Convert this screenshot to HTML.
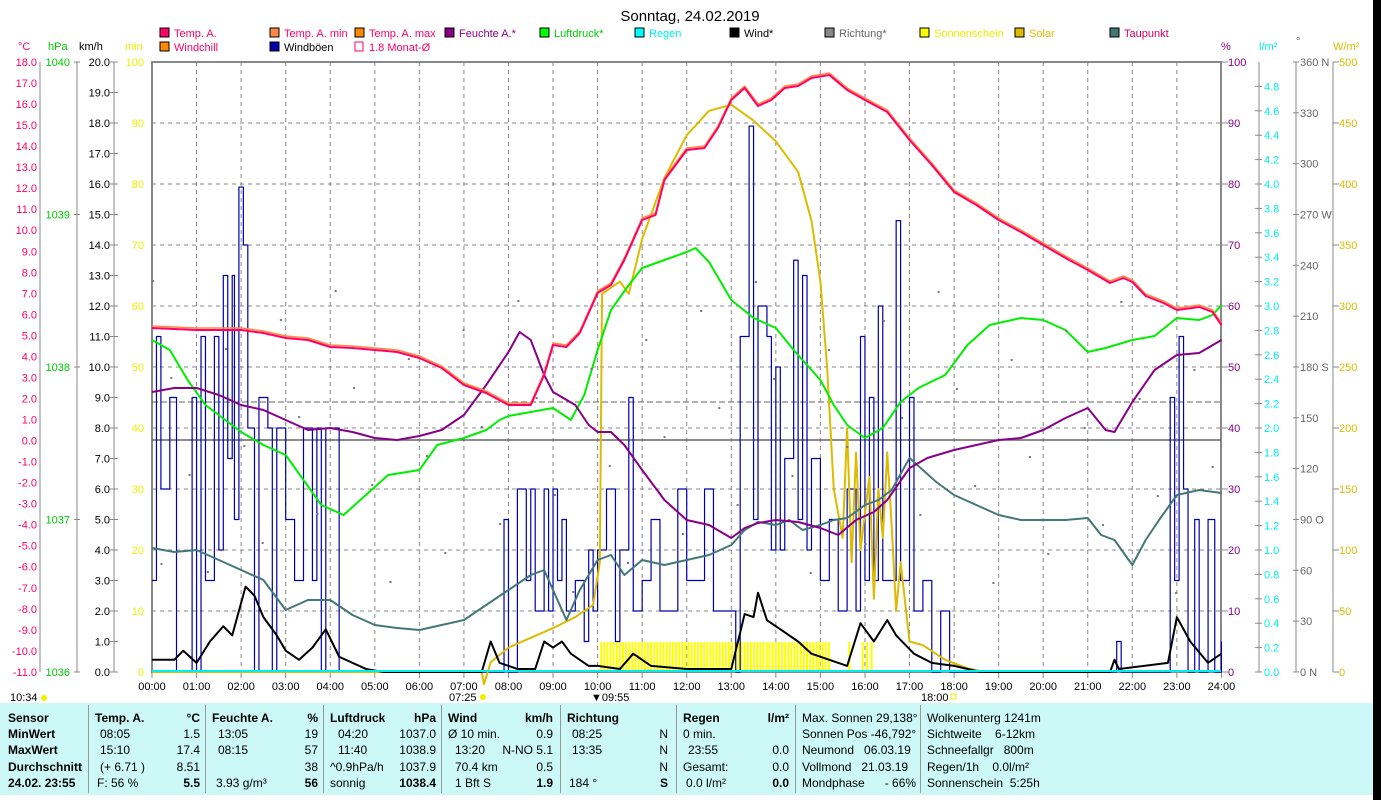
<!DOCTYPE html>
<html><head><meta charset="utf-8">
<style>
body{margin:0;background:#fff;width:1381px;height:800px;overflow:hidden;font-family:"Liberation Sans",sans-serif;}
svg{position:absolute;left:0;top:0}
#tbl{position:absolute;left:0;top:703px;width:1373px;height:92px;background:#ccf8f8;font-size:12px;}
#blk{position:absolute;left:1373px;top:0;width:8px;height:800px;background:#000}
.c{position:absolute;white-space:nowrap}
.b{font-weight:bold}
.sep{position:absolute;top:2px;width:1px;height:88px;background:#999}
</style></head><body>
<svg id="s" width="1381" height="800" font-family="Liberation Sans, sans-serif" font-size="11"></svg>
<div id="tbl"></div>
<div id="blk"></div>
<script>
const S=document.getElementById('s');let h='';
const X=t=>152+44.56*t;
const L=152,R=1221,T=62,B=672;
// grid
for(let i=1;i<24;i++)h+=`<line x1="${X(i)}" y1="${T}" x2="${X(i)}" y2="${B}" stroke="#888" stroke-dasharray="4,4"/>`;
for(let i=1;i<10;i++){let y=B-61*i;h+=`<line x1="${L}" y1="${y}" x2="${R}" y2="${y}" stroke="#888" stroke-dasharray="4,4"/>`;}
h+=`<rect x="${L}" y="${T}" width="${R-L}" height="${B-T}" fill="none" stroke="#888" stroke-width="2"/>`;
h+=`<line x1="${L}" y1="440" x2="${R}" y2="440" stroke="#666" stroke-width="1.5"/>`;
h+=`<line x1="${L}" y1="402" x2="${R}" y2="402" stroke="#666" stroke-dasharray="6,3"/>`;
// title
h+=`<text x="690" y="21" font-size="15" text-anchor="middle">Sonntag, 24.02.2019</text>`;
// legend
const lg=[[160,37,'#f06','Temp. A.','#f06'],[270,37,'#f84','Temp. A. min','#f06'],[355,37,'#f80','Temp. A. max','#f06'],[445,37,'#808','Feuchte A.*','#808'],[540,37,'#0f0','Luftdruck*','#0c0'],[635,37,'#0ff','Regen','#0ee'],[730,37,'#000','Wind*','#000'],[825,37,'#888','Richtung*','#666'],[920,37,'#ff0','Sonnenschein','#ee0'],[1015,37,'#db0','Solar','#db0'],[1110,37,'#477','Taupunkt','#c06'],[160,51,'#f80','Windchill','#f06'],[270,51,'#00a','Windböen','#000']];
lg.forEach(a=>{h+=`<rect x="${a[0]}" y="${a[1]-9}" width="9" height="9" fill="${a[2]}" stroke="#000"/><text x="${a[0]+14}" y="${a[1]}" fill="${a[4]}">${a[3]}</text>`});
h+=`<rect x="355" y="42" width="8" height="9" fill="none" stroke="#f06"/><text x="369" y="51" fill="#f06">1.8 Monat-Ø</text>`;
// left axes
h+=`<text x="18" y="50" fill="#f06">°C</text><text x="48" y="50" fill="#0c0">hPa</text><text x="79" y="50">km/h</text><text x="125" y="50" fill="#ee0">min</text>`;
h+=`<line x1="40" y1="62" x2="40" y2="672" stroke="#888"/><line x1="77" y1="62" x2="77" y2="672" stroke="#888"/><line x1="114" y1="62" x2="114" y2="672" stroke="#888"/>`;
for(let i=0;i<=29;i++){let v=18-i,y=62+i*21.03;h+=`<text x="37" y="${y+4}" fill="#f06" text-anchor="end">${v.toFixed(1)}</text>`;}
for(let i=0;i<=4;i++){let y=62+i*152.5;h+=`<line x1="74" y1="${y}" x2="80" y2="${y}" stroke="#888"/><text x="70" y="${y+4}" fill="#0c0" text-anchor="end">${1040-i}</text>`;}
for(let i=0;i<=20;i++){let y=62+i*30.5;h+=`<line x1="110" y1="${y}" x2="118" y2="${y}" stroke="#888"/><text x="110" y="${y+4}" text-anchor="end">${(20-i).toFixed(1)}</text>`;}
for(let i=0;i<=10;i++){let y=62+i*61;h+=`<text x="144" y="${y+4}" fill="#ee0" text-anchor="end">${100-i*10}</text>`;}
// right axes
h+=`<text x="1221" y="50" fill="#808">%</text><text x="1259" y="50" fill="#0ee">l/m²</text><text x="1296" y="45" fill="#666">°</text><text x="1333" y="50" fill="#db0">W/m²</text>`;
h+=`<line x1="1259" y1="62" x2="1259" y2="672" stroke="#888"/><line x1="1296" y1="62" x2="1296" y2="672" stroke="#888"/><line x1="1333" y1="62" x2="1333" y2="672" stroke="#888"/>`;
for(let i=0;i<=10;i++){let y=62+i*61;h+=`<line x1="1222" y1="${y}" x2="1228" y2="${y}" stroke="#888"/><text x="1228" y="${y+4}" fill="#808">${100-i*10}</text>`;
 h+=`<line x1="1333" y1="${y}" x2="1339" y2="${y}" stroke="#888"/><text x="1339" y="${y+4}" fill="#db0">${500-i*50}</text>`;}
for(let i=1;i<=25;i++){let y=62+i*24.4;h+=`<line x1="1255" y1="${y}" x2="1262" y2="${y}" stroke="#888"/><text x="1264" y="${y+4}" fill="#0ee">${(5-i*0.2).toFixed(1)}</text>`;}
const dl={360:' N',270:' W',180:' S',90:' O',0:' N'};
for(let i=0;i<=12;i++){let y=62+i*50.83,v=360-i*30;h+=`<line x1="1293" y1="${y}" x2="1299" y2="${y}" stroke="#888"/><text x="1300" y="${y+4}" fill="#666">${v}${dl[v]||''}</text>`;}
// x labels
for(let i=0;i<=24;i++){h+=`<line x1="${X(i)}" y1="672" x2="${X(i)}" y2="678" stroke="#888"/><text x="${X(i)}" y="690" text-anchor="middle">${String(i).padStart(2,'0')}:00</text>`;}
h+=`<text x="10" y="701" font-size="11">10:34</text><circle cx="44" cy="698" r="3" fill="#ee0"/>`;
h+=`<text x="449" y="701">07:25</text><circle cx="483" cy="697" r="3" fill="#ee0"/><text x="591" y="701">▼09:55</text><text x="921" y="701">18:00</text><rect x="951" y="694" width="5" height="5" fill="none" stroke="#ee0"/>`;
function pl(d,fy,col,w,step){let p=[];let prev=null;d.forEach(a=>{let x=X(a[0]),y=fy(a[1]);if(step&&prev!==null)p.push(x+','+prev);p.push(x+','+y);prev=y;});return `<polyline points="${p.join(' ')}" fill="none" stroke="${col}" stroke-width="${w}" stroke-linejoin="round"/>`;}
const id=v=>v;
// sunshine bars
for(let t=10.08;t<15.2;t+=0.07)h+=`<line x1="${X(t)}" y1="642" x2="${X(t)}" y2="672" stroke="#ff0" stroke-width="2"/>`;
[15.65,15.95,16.05,16.15].forEach(t=>h+=`<line x1="${X(t)}" y1="642" x2="${X(t)}" y2="672" stroke="#ff0" stroke-width="2"/>`);
// gusts
const K=v=>672-30.5*v;
const gust=[[0,3],[0.1,11],[0.2,6],[0.4,9],[0.55,0],[0.9,9],[1.0,0],[1.1,11],[1.2,3],[1.4,11],[1.5,4],[1.6,13],[1.7,7],[1.8,13],[1.85,5],[1.95,15.9],[2.05,14],[2.15,8],[2.3,0],[2.4,9],[2.6,8],[2.7,0],[2.8,8],[3.0,5],[3.2,3],[3.4,8],[3.6,3],[3.7,8],[3.8,0],[3.9,8],[4.1,8],[4.2,0],[7.8,0],[7.9,5],[8.0,0],[8.2,6],[8.4,3],[8.5,6],[8.6,2],[8.8,6],[8.9,2],[9.0,6],[9.1,3],[9.2,5],[9.3,2],[9.5,3],[9.7,1],[9.8,4],[9.9,2],[10.0,4],[10.2,6],[10.4,1],[10.5,4],[10.7,9],[10.8,2],[11.0,3],[11.2,5],[11.4,2],[11.6,2],[11.8,6],[12.0,3],[12.2,3],[12.4,6],[12.6,2],[12.8,2],[13.1,0],[13.2,11],[13.4,17.9],[13.5,5],[13.6,12],[13.8,11],[13.9,4],[14.0,10],[14.1,4],[14.2,7],[14.4,13.5],[14.5,5],[14.6,13],[14.7,4],[14.8,7],[15.0,3],[15.2,5],[15.4,2],[15.6,6],[15.8,2],[15.9,11],[16.0,3],[16.1,9],[16.2,3],[16.3,12],[16.4,3],[16.5,3],[16.7,14.8],[16.8,3],[17.0,9],[17.1,2],[17.3,3],[17.5,0],[17.7,2],[17.9,0],[21.6,0],[21.65,1],[21.75,0],[22.8,0],[22.85,9],[22.95,3],[23.05,11],[23.15,6],[23.25,0],[23.4,5],[23.5,0],[23.7,5],[23.85,0],[24,1]];
h+=pl(gust,K,'#00a',1.2,true);
// solar
const W=v=>672-1.22*v;
h+=pl([[0,0],[7.4,0],[7.45,-10],[7.6,8],[8,20],[8.5,28],[9,36],[9.5,45],[9.9,55],[10.05,90],[10.1,310],[10.5,320],[10.7,310],[11,355],[11.5,405],[12,440],[12.5,460],[13,465],[13.5,452],[14,435],[14.5,410],[14.8,370],[15.0,320],[15.15,250],[15.3,150],[15.5,110],[15.6,200],[15.7,90],[15.8,180],[15.9,100],[16.1,160],[16.2,60],[16.3,150],[16.4,110],[16.5,180],[16.6,120],[16.7,50],[16.8,90],[17,25],[17.3,22],[17.8,10],[18.3,3],[18.7,0]],W,'#db0',2);
// dewpoint
h+=pl([[0,548],[0.5,552],[1,550],[1.5,560],[2,570],[2.5,580],[3,610],[3.5,600],[4,600],[4.5,615],[5,625],[5.5,628],[6,630],[6.5,625],[7,620],[7.5,605],[8,590],[8.5,575],[8.8,570],[9,590],[9.3,620],[9.6,590],[10,560],[10.3,555],[10.6,575],[11,560],[11.5,565],[12,560],[12.5,555],[13,545],[13.3,530],[13.6,522],[14,525],[14.3,520],[14.6,530],[15,525],[15.3,520],[15.6,518],[16,505],[16.3,500],[16.6,490],[17,458],[17.3,470],[17.6,482],[18,495],[18.5,505],[19,515],[19.5,520],[20,520],[20.5,520],[21,518],[21.3,535],[21.6,540],[22,565],[22.3,540],[22.6,520],[23,495],[23.5,490],[24,493]],id,'#477',2);
// pressure
h+=pl([[0,340],[0.4,350],[0.8,380],[1.2,405],[2,432],[2.5,445],[3,455],[3.4,480],[3.8,505],[4.3,515],[4.8,495],[5.3,475],[6,470],[6.4,445],[7,438],[7.5,430],[7.8,420],[8,416],[8.5,412],[9,408],[9.4,420],[9.7,395],[10,350],[10.3,310],[10.7,285],[11,268],[11.5,260],[12,252],[12.2,248],[12.5,262],[13,300],[13.5,318],[14,328],[14.4,350],[15,380],[15.3,405],[15.6,425],[16,438],[16.4,428],[16.8,402],[17.2,388],[17.8,375],[18.3,345],[18.8,325],[19.5,318],[20,320],[20.5,330],[21,352],[21.4,348],[22,340],[22.5,336],[23,318],[23.5,320],[23.8,315],[24,305]],id,'#0e0',2);
// humidity
h+=pl([[0,392],[0.5,388],[1,388],[1.5,395],[2,405],[2.5,410],[3,420],[3.5,430],[4,428],[4.5,432],[5,438],[5.5,440],[6,436],[6.5,430],[7,415],[7.5,385],[8,352],[8.25,332],[8.5,340],[8.8,375],[9,392],[9.5,405],[9.8,425],[10,432],[10.3,432],[10.6,445],[11,470],[11.5,500],[12,520],[12.5,525],[13,538],[13.3,528],[13.6,523],[14,520],[14.5,522],[15,528],[15.4,535],[15.8,520],[16.2,512],[16.5,500],[17,468],[17.4,458],[18,450],[18.5,445],[19,440],[19.5,438],[20,430],[20.5,418],[21,408],[21.4,430],[21.6,432],[22,402],[22.5,370],[23,355],[23.5,353],[24,340]],id,'#808',2);
// temps
const tmp=[[0,328],[1,330],[2,330],[2.5,333],[3,338],[3.5,340],[4,347],[4.5,348],[5,350],[5.5,352],[6,358],[6.5,368],[7,385],[7.5,393],[8,405],[8.5,405],[8.8,375],[9,345],[9.3,347],[9.6,333],[10,293],[10.3,285],[10.6,260],[11,220],[11.3,215],[11.5,180],[12,150],[12.4,148],[12.7,128],[13,100],[13.3,88],[13.6,106],[13.9,100],[14.2,88],[14.5,86],[14.8,78],[15.2,75],[15.6,90],[16,100],[16.5,112],[17,140],[17.5,165],[18,192],[18.5,205],[19,220],[19.5,232],[20,245],[20.5,258],[21,270],[21.5,283],[21.8,278],[22,282],[22.3,296],[22.7,303],[23,310],[23.5,307],[23.8,312],[24,325]];
h+=pl(tmp.map(a=>[a[0],a[1]-2]),id,'#f84',1.5);
h+=pl(tmp,id,'#f06',2);
// wind black
const wd=[[0,0.4],[0.5,0.4],[0.7,0.7],[1,0.3],[1.3,1],[1.6,1.5],[1.8,1.2],[2.1,2.8],[2.3,2.5],[2.5,1.8],[2.8,1.2],[3,0.7],[3.3,0.4],[3.6,0.8],[3.9,1.4],[4.2,0.5],[4.8,0.1],[5.2,0],[7.4,0],[7.6,1.0],[7.8,0.3],[8.2,0.1],[8.6,0.1],[8.8,1.0],[9.0,0.8],[9.2,1.0],[9.4,0.6],[9.6,0.4],[9.8,0.2],[10,0.2],[10.5,0.1],[10.8,0.6],[11.2,0.2],[12,0.1],[13,0.1],[13.3,1.9],[13.5,1.8],[13.6,2.6],[13.8,1.7],[14.2,1.3],[14.5,1.0],[14.8,0.6],[15.2,0.4],[15.6,0.2],[15.9,1.6],[16.2,1.0],[16.5,1.7],[16.7,1.2],[17.1,0.6],[17.5,0.3],[18,0.2],[18.6,0],[21.5,0],[21.6,0.4],[21.7,0.1],[22.8,0.3],[23,1.8],[23.3,1.0],[23.7,0.3],[24,0.6]];
h+=pl(wd,K,'#000',2);
h+=`<line x1="152" y1="671" x2="1221" y2="671" stroke="#0ee" stroke-width="2"/>`;
// direction dots
for(let i=0;i<60;i++){let t=(i*0.41)%24,y=280+((i*97)%320);h+=`<rect x="${X(t)}" y="${y}" width="2" height="2" fill="#777"/>`;}
S.innerHTML=h;
// table
const tb=document.getElementById('tbl');let q='';
const C=(x,y,s,cls,al)=>{q+=`<div class="c ${cls||''}" style="${al?'right:'+(1373-x)+'px':'left:'+x+'px'};top:${y}px">${s}</div>`;};
[88,205,323,441,560,676,795,920].forEach(x=>q+=`<div class="sep" style="left:${x}px"></div>`);
const ry=[8,24,40,57,73];
['Sensor','MinWert','MaxWert','Durchschnitt','24.02. 23:55'].forEach((s,i)=>C(8,ry[i],s,'b'));
C(95,ry[0],'Temp. A.','b');C(200,ry[0],'°C','b',1);C(100,ry[1],'08:05');C(200,ry[1],'1.5','',1);C(100,ry[2],'15:10');C(200,ry[2],'17.4','',1);C(100,ry[3],'(+ 6.71 )');C(200,ry[3],'8.51','',1);C(97,ry[4],'F: 56 %');C(200,ry[4],'5.5','b',1);
C(212,ry[0],'Feuchte A.','b');C(318,ry[0],'%','b',1);C(218,ry[1],'13:05');C(318,ry[1],'19','',1);C(218,ry[2],'08:15');C(318,ry[2],'57','',1);C(318,ry[3],'38','',1);C(216,ry[4],'3.93 g/m³');C(318,ry[4],'56','b',1);
C(330,ry[0],'Luftdruck','b');C(436,ry[0],'hPa','b',1);C(338,ry[1],'04:20');C(436,ry[1],'1037.0','',1);C(338,ry[2],'11:40');C(436,ry[2],'1038.9','',1);C(330,ry[3],'^0.9hPa/h');C(436,ry[3],'1037.9','',1);C(330,ry[4],'sonnig');C(436,ry[4],'1038.4','b',1);
C(448,ry[0],'Wind','b');C(553,ry[0],'km/h','b',1);C(448,ry[1],'Ø 10 min.');C(553,ry[1],'0.9','',1);C(455,ry[2],'13:20');C(553,ry[2],'N-NO 5.1','',1);C(455,ry[3],'70.4 km');C(553,ry[3],'0.5','',1);C(455,ry[4],'1 Bft S');C(553,ry[4],'1.9','b',1);
C(567,ry[0],'Richtung','b');C(668,ry[1],'N','',1);C(668,ry[2],'N','',1);C(668,ry[3],'N','',1);C(668,ry[4],'S','b',1);C(572,ry[1],'08:25');C(572,ry[2],'13:35');C(569,ry[4],'184 °');
C(683,ry[0],'Regen','b');C(789,ry[0],'l/m²','b',1);C(683,ry[1],'0 min.');C(688,ry[2],'23:55');C(789,ry[2],'0.0','',1);C(683,ry[3],'Gesamt:');C(789,ry[3],'0.0','',1);C(686,ry[4],'0.0 l/m²');C(789,ry[4],'0.0','b',1);
C(802,ry[0],'Max. Sonnen 29,138°');C(802,ry[1],'Sonnen Pos -46,792°');C(802,ry[2],'Neumond &nbsp;&nbsp;06.03.19');C(802,ry[3],'Vollmond &nbsp;&nbsp;21.03.19');C(802,ry[4],'Mondphase &nbsp;&nbsp;&nbsp;&nbsp;&nbsp;- 66%');
C(927,ry[0],'Wolkenunterg 1241m');C(927,ry[1],'Sichtweite &nbsp;&nbsp;&nbsp;6-12km');C(927,ry[2],'Schneefallgr &nbsp;&nbsp;800m');C(927,ry[3],'Regen/1h &nbsp;&nbsp;&nbsp;0.0l/m²');C(927,ry[4],'Sonnenschein &nbsp;5:25h');
tb.innerHTML=q;
</script>
</body></html>
